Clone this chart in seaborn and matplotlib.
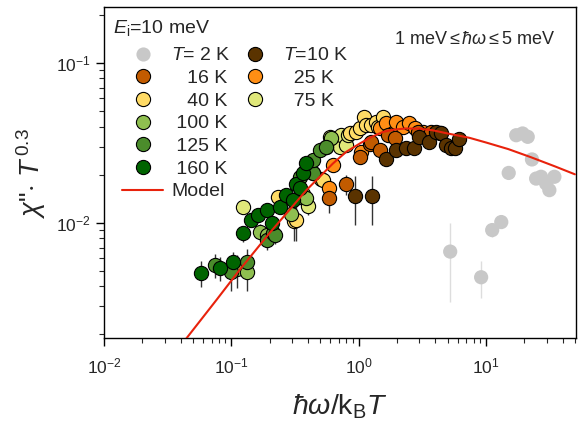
import numpy as np
import pandas as pd
import matplotlib
matplotlib.use("Agg")
import matplotlib.pyplot as plt
from matplotlib.lines import Line2D
import seaborn as sns

# scaled susceptibility (x = hw/kBT, y = chi''*T^0.3, e = error bar)
x2 = [5.24, 9.17, 11.2, 13.2, 15.1, 17.3, 19.4, 21.3, 23.0, 24.8, 27.1, 29.7, 31.5, 34.5]
y2 = [0.0066, 0.00456, 0.0090, 0.0101, 0.0205, 0.0353, 0.0362, 0.0345, 0.0249, 0.0189, 0.0194, 0.0176, 0.0160, 0.0194]
e2 = [0.0034, 0.0012, 0.0008, 0.0008, 0.0005, 0.0004, 0.0004, 0.0004, 0.0005, 0.0004, 0.0004, 0.0004, 0.0004, 0.0004]

x10 = [0.93, 1.28, 1.65, 1.98, 2.34, 2.72, 3.0, 3.60, 4.07, 4.45, 4.87, 5.3, 5.7, 6.2]
y10 = [0.0147, 0.0147, 0.0250, 0.0285, 0.0292, 0.0292, 0.0345, 0.0321, 0.0370, 0.0362, 0.0306, 0.0292, 0.0292, 0.0335]
e10 = [0.005, 0.005, 0.0025, 0.002, 0.002, 0.0015, 0.0015, 0.0015, 0.0012, 0.0012, 0.0012, 0.0015, 0.0015, 0.0012]

x16 = [0.585, 0.80, 1.02, 1.22, 1.26, 1.46, 1.70, 1.92, 2.92, 3.19, 3.72, 4.32]
y16 = [0.0142, 0.0174, 0.0257, 0.0313, 0.0321, 0.0285, 0.0353, 0.0340, 0.0370, 0.0353, 0.0370, 0.0362]
e16 = [0.0027, 0.0025, 0.002, 0.0015, 0.0015, 0.0015, 0.0012, 0.0012, 0.001, 0.001, 0.001, 0.001]

x25 = [0.585, 0.629, 1.05, 1.46, 1.65, 1.86, 1.98, 2.22, 2.51, 2.75, 3.19, 3.60]
y25 = [0.0166, 0.0229, 0.0278, 0.0389, 0.0418, 0.0362, 0.0428, 0.0398, 0.0418, 0.0389, 0.0370, 0.0353]
e25 = [0.002, 0.002, 0.0015, 0.0012, 0.0012, 0.0012, 0.001, 0.001, 0.001, 0.001, 0.001, 0.001]

x40 = [0.233, 0.31, 0.325, 0.525, 0.85, 0.96, 1.02, 1.11, 1.14, 1.26, 1.37, 1.42, 1.55]
y40 = [0.0145, 0.0102, 0.0104, 0.0185, 0.0362, 0.0370, 0.0389, 0.0460, 0.0408, 0.0408, 0.0428, 0.0398, 0.0460]
e40 = [0.0015, 0.0025, 0.0027, 0.002, 0.0015, 0.0012, 0.0012, 0.001, 0.001, 0.001, 0.001, 0.001, 0.001]

x75 = [0.124, 0.40, 0.509, 0.593, 0.629, 0.71, 0.73, 0.80, 0.82]
y75 = [0.0126, 0.0127, 0.0189, 0.0345, 0.0329, 0.0299, 0.0353, 0.0306, 0.0353]
e75 = [0.0012, 0.0015, 0.0015, 0.0015, 0.0015, 0.0015, 0.0012, 0.0012, 0.0012]

x100 = [0.11, 0.132, 0.167, 0.189, 0.297, 0.345, 0.366, 0.388, 0.388, 0.40, 0.439, 0.55, 0.61]
y100 = [0.0051, 0.00494, 0.0088, 0.0084, 0.0114, 0.0145, 0.0152, 0.0142, 0.0214, 0.0229, 0.0204, 0.0300, 0.0337]
e100 = [0.0012, 0.0012, 0.001, 0.001, 0.001, 0.0012, 0.0012, 0.0012, 0.0012, 0.0012, 0.0012, 0.0012, 0.0012]

x125 = [0.0743, 0.10, 0.132, 0.189, 0.213, 0.219, 0.345, 0.439, 0.439, 0.494, 0.55]
y125 = [0.00544, 0.00494, 0.0057, 0.0078, 0.0086, 0.0084, 0.0194, 0.0204, 0.0247, 0.0285, 0.0300]
e125 = [0.0009, 0.0012, 0.0012, 0.001, 0.001, 0.001, 0.0012, 0.0012, 0.0012, 0.0012, 0.0012]

x160 = [0.058, 0.081, 0.103, 0.124, 0.144, 0.162, 0.189, 0.207, 0.24, 0.271, 0.305, 0.325, 0.345, 0.366, 0.388]
y160 = [0.00487, 0.0052, 0.0057, 0.0086, 0.0104, 0.0112, 0.0120, 0.0099, 0.0126, 0.0149, 0.0139, 0.0176, 0.0164, 0.0204, 0.0235]
e160 = [0.0009, 0.0009, 0.0009, 0.001, 0.001, 0.001, 0.001, 0.001, 0.001, 0.0012, 0.0012, 0.0012, 0.0012, 0.0012, 0.0012]

# model curve
model_x = [0.0444, 0.0765, 0.116, 0.2, 0.389, 0.629, 0.8, 1.02, 1.25, 1.55, 1.9, 2.35, 3.0, 3.83, 5.0, 7.43, 10, 15, 22.6, 35, 50]
model_y = [0.00189, 0.00329, 0.00506, 0.00863, 0.0160, 0.0235, 0.0278, 0.0313, 0.0343, 0.0370, 0.0383, 0.0389, 0.0388, 0.0379, 0.0362, 0.0340, 0.0318, 0.0289, 0.0257, 0.0225, 0.0201]

temps = ["2 K", "10 K", "16 K", "25 K", "40 K", "75 K", "100 K", "125 K", "160 K"]
colors = {"2 K": "#c8c8c8", "10 K": "#5a3300", "16 K": "#c25b00", "25 K": "#ff8e14",
          "40 K": "#ffdb66", "75 K": "#e0e87a", "100 K": "#8fbf50", "125 K": "#4b8c2b",
          "160 K": "#006400"}

series = {"2 K": (x2, y2, e2), "10 K": (x10, y10, e10), "16 K": (x16, y16, e16),
          "25 K": (x25, y25, e25), "40 K": (x40, y40, e40), "75 K": (x75, y75, e75),
          "100 K": (x100, y100, e100), "125 K": (x125, y125, e125), "160 K": (x160, y160, e160)}

frames = []
for t in temps:
    xs, ys, es = series[t]
    frames.append(pd.DataFrame({"x": xs, "y": ys, "err": es, "T": t}))
df = pd.concat(frames, ignore_index=True)

sns.set_style("ticks")
plt.rcParams['font.family'] = ['Liberation Sans', 'DejaVu Sans']
plt.rcParams['mathtext.fontset'] = 'custom'
plt.rcParams['mathtext.rm'] = 'Liberation Sans'
plt.rcParams['mathtext.it'] = 'Liberation Sans:italic'
plt.rcParams['mathtext.bf'] = 'Liberation Sans:bold'

fig = plt.figure(figsize=(5.79, 4.24), dpi=100)
ax = fig.add_axes([104 / 579, 86 / 424, 472 / 579, 331 / 424])

# draw order: grey background first, cold data last
order = ["2 K", "75 K", "40 K", "100 K", "125 K", "160 K", "25 K", "16 K", "10 K"]
for i, t in enumerate(order):
    sub = df[df["T"] == t]
    ecol = "#dddddd" if t == "2 K" else "#333333"
    ax.errorbar(sub["x"], sub["y"], yerr=sub["err"], fmt="none", ecolor=ecol,
                elinewidth=1.0, capsize=0, zorder=1 + i * 0.1)
    sns.scatterplot(data=sub, x="x", y="y", color=colors[t], s=105,
                    edgecolor="none" if t == "2 K" else "black",
                    linewidth=0.8, ax=ax, zorder=2 + i * 0.1, legend=False)

sns.lineplot(x=model_x, y=model_y, color="#e8220c", lw=1.5, ax=ax, zorder=10, sort=False)

ax.set_xscale("log")
ax.set_yscale("log")
ax.set_xlim(0.01, 51)
ax.set_ylim(0.0019, 0.224)

for s in ax.spines.values():
    s.set_visible(True)
    s.set_linewidth(1.0)
    s.set_color("black")
ax.tick_params(which="major", length=6, width=1, labelsize=12.5, direction="out",
               top=False, right=False, color="black")
ax.tick_params(axis="x", which="major", pad=7)
ax.tick_params(which="minor", length=3.5, width=0.8, direction="out", top=False, right=False)

ax.set_xlabel(r"$\hbar\omega$/k$_\mathrm{B}$$\it{T}$", fontsize=20.5, labelpad=12)
ax.set_ylabel(r'$\chi$"$\cdot$ $\it{T}^{\,0.3}$', fontsize=19.5, labelpad=6)

ax.text(0.958, 0.903, r"1 meV$\leq\hbar\omega\leq$5 meV", transform=ax.transAxes,
        ha="right", va="center", fontsize=13)
ax.text(0.019, 0.937, r"$\it{E}_\mathrm{i}$=10 meV", transform=ax.transAxes,
        ha="left", va="center", fontsize=14)

def mk(c, edge=True):
    return Line2D([], [], ls="", marker="o", ms=10.2, mfc=c,
                  mec="black" if edge else "none", mew=0.8)

blank = Line2D([], [], ls="", marker="")
handles = [mk(colors["2 K"], False), mk(colors["16 K"]), mk(colors["40 K"]),
           mk(colors["100 K"]), mk(colors["125 K"]), mk(colors["160 K"]),
           Line2D([], [], color="#e8220c", lw=1.5),
           mk(colors["10 K"]), mk(colors["25 K"]), mk(colors["75 K"]),
           blank, blank, blank, blank]
labels = [r"$\it{T}$= 2 K", "   16 K", "   40 K", " 100 K", " 125 K", " 160 K", "Model",
          r"$\it{T}$=10 K", "  25 K", "  75 K", "", "", "", ""]
ax.legend(handles, labels, ncol=2, loc="upper left", bbox_to_anchor=(0.039, 0.88),
          frameon=False, fontsize=14, handlelength=2.1, handletextpad=0.4,
          columnspacing=0.2, labelspacing=0.26, borderaxespad=0, borderpad=0)

fig.savefig("out.png", dpi=100)
